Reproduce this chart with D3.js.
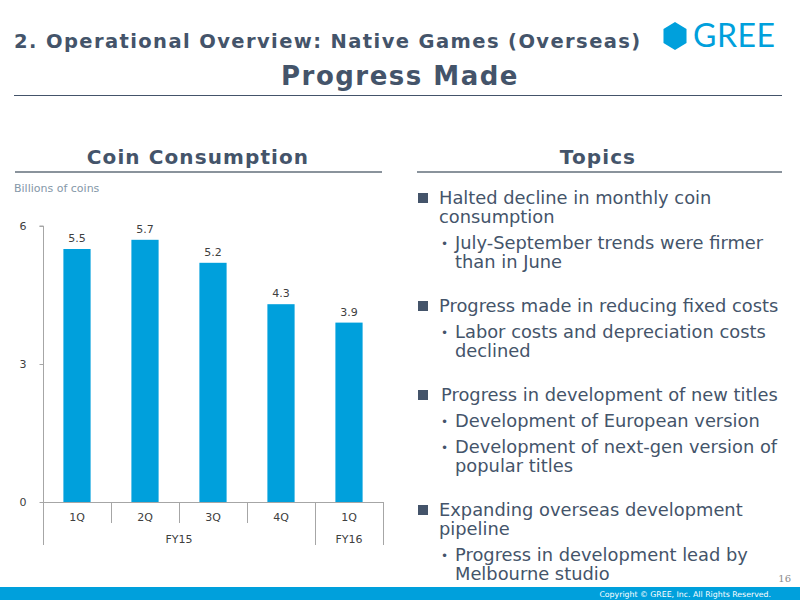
<!DOCTYPE html>
<html lang="en">
<head>
<meta charset="UTF-8">
<title>Progress Made - Coin Consumption</title>
<script src="https://d3js.org/d3.v7.min.js"></script>
<style>
  body { margin: 0; background: #fff; }
  svg { display: block; }
</style>
</head>
<body>
<div id="chart"></div>
<script>
// data
const quarters = ["1Q", "2Q", "3Q", "4Q", "1Q"];
const fiscalYears = ["FY15", "FY15", "FY15", "FY15", "FY16"];
const coins = [5.5, 5.7, 5.2, 4.3, 3.9];
const yTicks = [0, 3, 6];

const topics = [
  { head: ["Halted decline in monthly coin", "consumption"],
    subs: [["July-September trends were firmer", "than in June"]] },
  { head: ["Progress made in reducing fixed costs"],
    subs: [["Labor costs and depreciation costs", "declined"]] },
  { head: ["Progress in development of new titles"],
    subs: [["Development of European version"], ["Development of next-gen version of", "popular titles"]] },
  { head: ["Expanding overseas development", "pipeline"],
    subs: [["Progress in development lead by", "Melbourne studio"]] }
];

const W = 800, H = 600;
const dark = "#44546a", blue = "#00a0dc", axisGray = "#a6a6a6";
const font = "'DejaVu Sans', Verdana, sans-serif";

const svg = d3.select("#chart").append("svg")
  .attr("width", W).attr("height", H)
  .style("font-family", font);

// header
svg.append("text")
  .attr("x", 14).attr("y", 48)
  .attr("fill", dark).attr("font-weight", "bold")
  .attr("font-size", 19.5).attr("letter-spacing", 1.4)
  .text("2. Operational Overview: Native Games (Overseas)");

svg.append("text")
  .attr("x", 400).attr("y", 85).attr("text-anchor", "middle")
  .attr("fill", dark).attr("font-weight", "bold")
  .attr("font-size", 26).attr("letter-spacing", 1.5)
  .text("Progress Made");

svg.append("line")
  .attr("x1", 14).attr("x2", 782).attr("y1", 95.5).attr("y2", 95.5)
  .attr("stroke", dark).attr("stroke-width", 1);

// logo
const hx = 675, hy = 36, hr = 14;
svg.append("path")
  .attr("d", d3.range(6).map((i, k) => {
    const a = Math.PI / 3 * i - Math.PI / 2;
    return (k ? "L" : "M") + (hx + hr * Math.cos(a) * 0.95) + "," + (hy + hr * Math.sin(a));
  }).join("") + "Z")
  .attr("fill", blue);
svg.append("text")
  .attr("x", 693).attr("y", 47)
  .attr("fill", blue).attr("font-family", "Lato, 'Open Sans', sans-serif")
  .attr("font-size", 32).attr("letter-spacing", 0.5)
  .text("GREE");

// section titles
function sectionTitle(txt, cx, x1, x2) {
  svg.append("text")
    .attr("x", cx).attr("y", 164).attr("text-anchor", "middle")
    .attr("fill", dark).attr("font-weight", "bold")
    .attr("font-size", 20).attr("letter-spacing", 1.1)
    .text(txt);
  svg.append("line")
    .attr("x1", x1).attr("x2", x2).attr("y1", 172).attr("y2", 172)
    .attr("stroke", "#8a939c").attr("stroke-width", 2);
}
sectionTitle("Coin Consumption", 198, 15, 382);
sectionTitle("Topics", 598, 417, 782);

// chart
svg.append("text")
  .attr("x", 14).attr("y", 192)
  .attr("fill", "#8497a8").attr("font-size", 11)
  .text("Billions of coins");

const x = d3.scaleBand()
  .domain(d3.range(quarters.length))
  .range([43, 383])
  .paddingInner(0.6).paddingOuter(0.3);

const y = d3.scaleLinear().domain([0, 6]).range([502, 226]);

const g = svg.append("g");

// y axis
const yAxis = g.append("g")
  .attr("transform", "translate(43.5,0)")
  .call(d3.axisLeft(y).tickValues(yTicks).tickFormat(d3.format("d")).tickSize(4).tickPadding(7));
yAxis.select(".domain").attr("stroke", axisGray).attr("d", `M-4,${y(6)}H0V${y(0)}`);
yAxis.selectAll(".tick line").attr("stroke", axisGray);
yAxis.selectAll(".tick text")
  .attr("fill", "#404040").attr("font-size", 11).attr("font-family", font)
  .attr("dy", "0.35em").attr("dx", "-6");

// bars
g.selectAll("rect.bar")
  .data(coins)
  .join("rect")
  .attr("class", "bar")
  .attr("x", (d, i) => x(i))
  .attr("width", x.bandwidth())
  .attr("y", d => y(d))
  .attr("height", d => y(0) - y(d))
  .attr("fill", blue);

g.selectAll("text.val")
  .data(coins)
  .join("text")
  .attr("class", "val")
  .attr("x", (d, i) => x(i) + x.bandwidth() / 2)
  .attr("y", d => y(d) - 7)
  .attr("text-anchor", "middle")
  .attr("fill", "#404040").attr("font-size", 11)
  .text(d => d.toFixed(1));

// category axis (two levels)
const step = x.step();
const left = (i) => 43 + i * step;
g.append("line")
  .attr("x1", 43).attr("x2", 383).attr("y1", y(0) + 0.5).attr("y2", y(0) + 0.5)
  .attr("stroke", axisGray);

quarters.forEach((q, i) => {
  g.append("text")
    .attr("x", left(i) + step / 2).attr("y", 521)
    .attr("text-anchor", "middle")
    .attr("fill", "#404040").attr("font-size", 11)
    .text(q);
});

// separators
d3.range(quarters.length + 1).forEach(i => {
  const isGroupEdge = i === 0 || i === quarters.length || fiscalYears[i] !== fiscalYears[i - 1];
  g.append("line")
    .attr("x1", Math.round(left(i)) + 0.5).attr("x2", Math.round(left(i)) + 0.5)
    .attr("y1", y(0)).attr("y2", isGroupEdge ? 545 : 523)
    .attr("stroke", axisGray);
});

const groups = d3.groups(quarters.map((q, i) => ({ i, fy: fiscalYears[i] })), d => d.fy);
groups.forEach(([fy, items]) => {
  const a = left(items[0].i), b = left(items[items.length - 1].i + 1);
  g.append("text")
    .attr("x", (a + b) / 2).attr("y", 543)
    .attr("text-anchor", "middle")
    .attr("fill", "#404040").attr("font-size", 11)
    .text(fy);
});

// topics list
const fs = 17.85;
let ty = 204;
topics.forEach((t, k) => {
  svg.append("rect")
    .attr("x", 418).attr("y", ty - 11).attr("width", 10).attr("height", 10)
    .attr("fill", dark);
  t.head.forEach((line, j) => {
    svg.append("text")
      .attr("x", k === 2 ? 441 : 439).attr("y", ty + j * 19)
      .attr("fill", dark).attr("font-size", fs)
      .text(line);
  });
  ty += t.head.length * 19 + 7;
  t.subs.forEach(s => {
    svg.append("text")
      .attr("x", 441).attr("y", ty - 1)
      .attr("fill", dark).attr("font-size", 12)
      .text("•");
    s.forEach((line, j) => {
      svg.append("text")
        .attr("x", 455).attr("y", ty + j * 19)
        .attr("fill", dark).attr("font-size", fs)
        .text(line);
    });
    ty += s.length * 19 + 7;
  });
  ty += 18;
});

// footer
svg.append("text")
  .attr("x", 791).attr("y", 582).attr("text-anchor", "end")
  .attr("fill", "#8c8c8c").attr("font-size", 10)
  .attr("font-family", "'DejaVu Serif', serif")
  .text("16");

svg.append("rect")
  .attr("x", 0).attr("y", 587).attr("width", W).attr("height", 13)
  .attr("fill", blue);
svg.append("text")
  .attr("x", 771).attr("y", 597).attr("text-anchor", "end")
  .attr("fill", "#fff").attr("font-size", 7.8)
  .text("Copyright © GREE, Inc. All Rights Reserved.");
</script>
</body>
</html>
